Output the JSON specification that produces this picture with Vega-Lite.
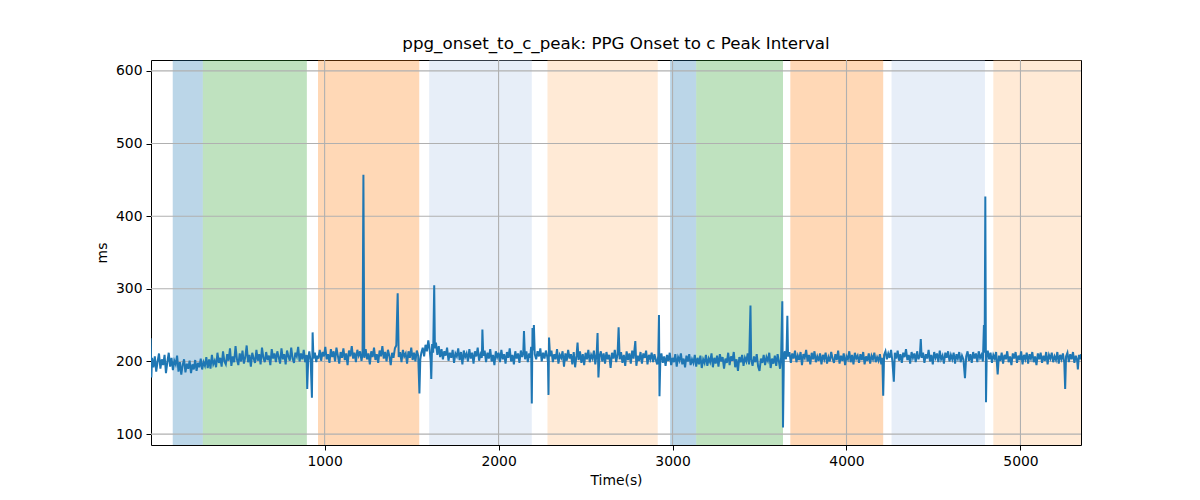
{
  "$schema": "https://vega.github.io/schema/vega-lite/v6.json",
  "width": 930, "height": 385,
  "autosize": {"type": "none"},
  "padding": {"left": 151, "top": 60, "right": 119, "bottom": 55},
  "title": {"text": "ppg_onset_to_c_peak: PPG Onset to c Peak Interval", "font": "DejaVu Sans", "fontSize": 16.7, "fontWeight": "normal", "color": "black", "offset": 7},
  "datasets": {
    "bands": [
      {"t": 127, "t2": 300, "kind": "blue"},
      {"t": 300, "t2": 898, "kind": "green"},
      {"t": 962, "t2": 1544, "kind": "orange"},
      {"t": 1601, "t2": 2191, "kind": "lblue"},
      {"t": 2281, "t2": 2915, "kind": "lorange"},
      {"t": 2986, "t2": 3136, "kind": "blue"},
      {"t": 3136, "t2": 3635, "kind": "green"},
      {"t": 3677, "t2": 4211, "kind": "orange"},
      {"t": 4259, "t2": 4796, "kind": "lblue"},
      {"t": 4844, "t2": 5348, "kind": "lorange"}
    ],
    "xgrid": [{"t": 1000}, {"t": 2000}, {"t": 3000}, {"t": 4000}, {"t": 5000}],
    "ygrid": [{"ms": 100}, {"ms": 200}, {"ms": 300}, {"ms": 400}, {"ms": 500}, {"ms": 600}],
    "series": [
      {"t":0,"ms":232},{"t":4,"ms":178},{"t":8,"ms":205},{"t":16,"ms":192},{"t":24,"ms":207},{"t":32,"ms":186},{"t":40,"ms":200},{"t":48,"ms":211},{"t":56,"ms":190},{"t":64,"ms":203},{"t":72,"ms":195},{"t":80,"ms":209},{"t":88,"ms":184},{"t":96,"ms":199},{"t":104,"ms":212},{"t":112,"ms":193},{"t":120,"ms":205},{"t":128,"ms":188},{"t":136,"ms":201},{"t":144,"ms":196},{"t":152,"ms":208},
      {"t":160,"ms":186},{"t":168,"ms":199},{"t":176,"ms":182},{"t":184,"ms":195},{"t":192,"ms":203},{"t":200,"ms":185},{"t":208,"ms":197},{"t":216,"ms":190},{"t":224,"ms":201},{"t":232,"ms":184},{"t":240,"ms":196},{"t":248,"ms":189},{"t":256,"ms":202},{"t":264,"ms":187},{"t":272,"ms":198},{"t":280,"ms":192},{"t":288,"ms":204},{"t":296,"ms":189},{"t":304,"ms":199},{"t":312,"ms":194},{"t":320,"ms":206},{"t":328,"ms":191},
      {"t":336,"ms":203},{"t":344,"ms":190},{"t":352,"ms":209},{"t":360,"ms":196},{"t":368,"ms":201},{"t":376,"ms":192},{"t":384,"ms":212},{"t":392,"ms":198},{"t":400,"ms":205},{"t":408,"ms":193},{"t":416,"ms":214},{"t":424,"ms":200},{"t":432,"ms":196},{"t":440,"ms":210},{"t":448,"ms":201},{"t":456,"ms":218},{"t":464,"ms":194},{"t":472,"ms":207},{"t":480,"ms":199},{"t":488,"ms":221},{"t":496,"ms":203},{"t":504,"ms":195},{"t":512,"ms":211},{"t":520,"ms":200},{"t":528,"ms":215},{"t":536,"ms":197},{"t":544,"ms":206},{"t":552,"ms":222},{"t":560,"ms":199},{"t":568,"ms":209},{"t":576,"ms":193},{"t":584,"ms":212},{"t":592,"ms":204},{"t":600,"ms":198},{"t":608,"ms":216},{"t":616,"ms":201},{"t":624,"ms":210},{"t":632,"ms":196},{"t":640,"ms":219},{"t":648,"ms":205},{"t":656,"ms":199},{"t":664,"ms":213},{"t":672,"ms":202},{"t":680,"ms":208},{"t":688,"ms":195},{"t":696,"ms":217},{"t":704,"ms":204},{"t":712,"ms":211},{"t":720,"ms":199},{"t":728,"ms":214},{"t":736,"ms":206},{"t":744,"ms":197},{"t":752,"ms":218},{"t":760,"ms":203},{"t":768,"ms":210},{"t":776,"ms":196},{"t":784,"ms":215},{"t":792,"ms":207},{"t":800,"ms":201},{"t":808,"ms":219},{"t":816,"ms":204},{"t":824,"ms":198},{"t":832,"ms":212},{"t":840,"ms":207},{"t":848,"ms":220},{"t":856,"ms":200},{"t":864,"ms":211},{"t":872,"ms":203},{"t":880,"ms":216},{"t":888,"ms":199},{"t":896,"ms":209},{"t":900,"ms":162},{"t":906,"ms":205},{"t":912,"ms":214},{"t":920,"ms":200},{"t":927,"ms":150},{"t":931,"ms":240},{"t":936,"ms":204},{"t":944,"ms":212},{"t":952,"ms":199},{"t":958,"ms":208},
      {"t":964,"ms":204},{"t":972,"ms":216},{"t":980,"ms":201},{"t":988,"ms":213},{"t":996,"ms":207},{"t":1004,"ms":220},{"t":1012,"ms":203},{"t":1020,"ms":210},{"t":1028,"ms":198},{"t":1036,"ms":217},{"t":1044,"ms":206},{"t":1052,"ms":214},{"t":1060,"ms":200},{"t":1068,"ms":219},{"t":1076,"ms":208},{"t":1084,"ms":197},{"t":1092,"ms":213},{"t":1100,"ms":205},{"t":1108,"ms":218},{"t":1116,"ms":202},{"t":1124,"ms":211},{"t":1132,"ms":195},{"t":1140,"ms":215},{"t":1148,"ms":207},{"t":1156,"ms":221},{"t":1164,"ms":204},{"t":1172,"ms":212},{"t":1180,"ms":199},{"t":1188,"ms":216},{"t":1196,"ms":208},{"t":1204,"ms":214},{"t":1212,"ms":201},{"t":1218,"ms":210},{"t":1223,"ms":457},{"t":1228,"ms":205},{"t":1236,"ms":217},{"t":1244,"ms":203},{"t":1252,"ms":211},{"t":1260,"ms":196},{"t":1268,"ms":214},{"t":1276,"ms":206},{"t":1284,"ms":219},{"t":1292,"ms":202},{"t":1300,"ms":210},{"t":1308,"ms":198},{"t":1316,"ms":215},{"t":1324,"ms":207},{"t":1332,"ms":221},{"t":1340,"ms":204},{"t":1348,"ms":213},{"t":1356,"ms":200},{"t":1364,"ms":216},{"t":1372,"ms":208},{"t":1380,"ms":195},{"t":1388,"ms":212},{"t":1396,"ms":205},{"t":1404,"ms":218},{"t":1412,"ms":222},{"t":1420,"ms":294},{"t":1426,"ms":206},{"t":1434,"ms":213},{"t":1442,"ms":199},{"t":1450,"ms":216},{"t":1458,"ms":207},{"t":1466,"ms":211},{"t":1474,"ms":197},{"t":1482,"ms":214},{"t":1490,"ms":205},{"t":1498,"ms":219},{"t":1506,"ms":202},{"t":1514,"ms":212},{"t":1522,"ms":200},{"t":1530,"ms":215},{"t":1538,"ms":208},{"t":1545,"ms":156},{"t":1550,"ms":203},
      {"t":1556,"ms":212},{"t":1564,"ms":219},{"t":1572,"ms":207},{"t":1580,"ms":223},{"t":1588,"ms":214},{"t":1596,"ms":229},{"t":1604,"ms":216},{"t":1610,"ms":200},{"t":1613,"ms":176},{"t":1618,"ms":224},{"t":1624,"ms":212},{"t":1630,"ms":305},{"t":1634,"ms":218},{"t":1640,"ms":226},{"t":1648,"ms":209},{"t":1656,"ms":221},
      {"t":1664,"ms":206},{"t":1672,"ms":217},{"t":1680,"ms":203},{"t":1688,"ms":214},{"t":1696,"ms":208},{"t":1704,"ms":219},{"t":1712,"ms":201},{"t":1720,"ms":212},{"t":1728,"ms":205},{"t":1736,"ms":216},{"t":1744,"ms":198},{"t":1752,"ms":211},{"t":1760,"ms":207},{"t":1768,"ms":218},{"t":1776,"ms":202},{"t":1784,"ms":213},{"t":1792,"ms":196},{"t":1800,"ms":215},{"t":1808,"ms":206},{"t":1816,"ms":211},{"t":1824,"ms":200},{"t":1832,"ms":217},{"t":1840,"ms":204},{"t":1848,"ms":212},{"t":1856,"ms":197},{"t":1864,"ms":214},{"t":1872,"ms":207},{"t":1880,"ms":219},{"t":1888,"ms":201},{"t":1896,"ms":210},{"t":1904,"ms":205},{"t":1907,"ms":244},{"t":1912,"ms":208},{"t":1920,"ms":215},{"t":1928,"ms":199},{"t":1936,"ms":212},{"t":1944,"ms":204},{"t":1952,"ms":217},{"t":1960,"ms":200},{"t":1968,"ms":209},{"t":1976,"ms":195},{"t":1984,"ms":214},{"t":1992,"ms":206},{"t":2000,"ms":212},{"t":2008,"ms":199},{"t":2016,"ms":216},{"t":2024,"ms":203},{"t":2032,"ms":210},{"t":2040,"ms":197},{"t":2048,"ms":213},{"t":2056,"ms":205},{"t":2064,"ms":218},{"t":2072,"ms":200},{"t":2080,"ms":209},{"t":2088,"ms":196},{"t":2096,"ms":214},{"t":2104,"ms":204},{"t":2112,"ms":211},{"t":2120,"ms":198},{"t":2128,"ms":215},{"t":2136,"ms":206},{"t":2142,"ms":212},{"t":2146,"ms":242},{"t":2152,"ms":203},{"t":2160,"ms":214},{"t":2168,"ms":199},{"t":2176,"ms":211},{"t":2182,"ms":205},{"t":2187,"ms":220},{"t":2191,"ms":142},{"t":2195,"ms":246},{"t":2199,"ms":215},{"t":2203,"ms":250},{"t":2208,"ms":210},{"t":2216,"ms":203},{"t":2224,"ms":214},{"t":2232,"ms":207},{"t":2240,"ms":218},{"t":2248,"ms":200},{"t":2256,"ms":212},{"t":2264,"ms":204},{"t":2272,"ms":215},{"t":2280,"ms":206},
      {"t":2284,"ms":199},{"t":2287,"ms":154},{"t":2290,"ms":233},{"t":2296,"ms":207},{"t":2304,"ms":215},{"t":2312,"ms":199},{"t":2320,"ms":210},{"t":2328,"ms":203},{"t":2336,"ms":217},{"t":2344,"ms":197},{"t":2352,"ms":209},{"t":2360,"ms":205},{"t":2368,"ms":214},{"t":2376,"ms":193},{"t":2384,"ms":211},{"t":2392,"ms":201},{"t":2400,"ms":216},{"t":2408,"ms":204},{"t":2416,"ms":210},{"t":2424,"ms":196},{"t":2432,"ms":213},{"t":2440,"ms":192},{"t":2448,"ms":208},{"t":2454,"ms":226},{"t":2460,"ms":202},{"t":2468,"ms":214},{"t":2476,"ms":198},{"t":2484,"ms":210},{"t":2492,"ms":195},{"t":2500,"ms":212},{"t":2508,"ms":203},{"t":2516,"ms":216},{"t":2524,"ms":199},{"t":2532,"ms":209},{"t":2540,"ms":204},{"t":2548,"ms":215},{"t":2556,"ms":196},{"t":2564,"ms":211},{"t":2569,"ms":239},{"t":2574,"ms":178},{"t":2580,"ms":207},{"t":2588,"ms":214},{"t":2596,"ms":200},{"t":2604,"ms":211},{"t":2612,"ms":197},{"t":2620,"ms":213},{"t":2628,"ms":203},{"t":2636,"ms":209},{"t":2644,"ms":191},{"t":2652,"ms":212},{"t":2660,"ms":204},{"t":2668,"ms":216},{"t":2676,"ms":199},{"t":2684,"ms":210},{"t":2690,"ms":247},{"t":2696,"ms":203},{"t":2704,"ms":213},{"t":2712,"ms":198},{"t":2720,"ms":209},{"t":2728,"ms":194},{"t":2736,"ms":214},{"t":2744,"ms":202},{"t":2752,"ms":211},{"t":2760,"ms":197},{"t":2768,"ms":215},{"t":2776,"ms":204},{"t":2786,"ms":228},{"t":2792,"ms":194},{"t":2800,"ms":208},{"t":2808,"ms":201},{"t":2816,"ms":213},{"t":2824,"ms":197},{"t":2832,"ms":211},{"t":2840,"ms":205},{"t":2848,"ms":215},{"t":2856,"ms":196},{"t":2864,"ms":209},{"t":2872,"ms":203},{"t":2880,"ms":212},{"t":2888,"ms":199},{"t":2896,"ms":210},{"t":2904,"ms":202},{"t":2912,"ms":196},{"t":2918,"ms":208},{"t":2922,"ms":264},{"t":2925,"ms":152},{"t":2930,"ms":204},
      {"t":2936,"ms":211},{"t":2944,"ms":198},{"t":2952,"ms":207},{"t":2960,"ms":194},{"t":2968,"ms":209},{"t":2976,"ms":201},{"t":2984,"ms":212},{"t":2992,"ms":195},{"t":3000,"ms":205},{"t":3008,"ms":199},{"t":3016,"ms":210},{"t":3024,"ms":193},{"t":3032,"ms":206},{"t":3040,"ms":201},{"t":3048,"ms":211},{"t":3056,"ms":196},{"t":3064,"ms":204},{"t":3072,"ms":192},{"t":3080,"ms":208},{"t":3088,"ms":200},{"t":3096,"ms":210},{"t":3104,"ms":195},{"t":3112,"ms":203},{"t":3120,"ms":198},{"t":3128,"ms":209},{"t":3136,"ms":193},
      {"t":3144,"ms":205},{"t":3152,"ms":196},{"t":3160,"ms":208},{"t":3168,"ms":191},{"t":3176,"ms":203},{"t":3184,"ms":198},{"t":3192,"ms":209},{"t":3200,"ms":194},{"t":3208,"ms":204},{"t":3216,"ms":199},{"t":3224,"ms":211},{"t":3232,"ms":192},{"t":3240,"ms":205},{"t":3248,"ms":197},{"t":3256,"ms":208},{"t":3264,"ms":193},{"t":3272,"ms":210},{"t":3280,"ms":200},{"t":3288,"ms":206},{"t":3296,"ms":190},{"t":3304,"ms":204},{"t":3312,"ms":198},{"t":3320,"ms":212},{"t":3328,"ms":195},{"t":3336,"ms":207},{"t":3344,"ms":201},{"t":3352,"ms":213},{"t":3360,"ms":192},{"t":3368,"ms":203},{"t":3376,"ms":187},{"t":3384,"ms":206},{"t":3392,"ms":199},{"t":3400,"ms":209},{"t":3408,"ms":194},{"t":3416,"ms":205},{"t":3424,"ms":200},{"t":3432,"ms":211},{"t":3440,"ms":196},{"t":3448,"ms":277},{"t":3452,"ms":203},{"t":3460,"ms":194},{"t":3468,"ms":207},{"t":3476,"ms":199},{"t":3484,"ms":210},{"t":3492,"ms":193},{"t":3500,"ms":187},{"t":3508,"ms":204},{"t":3516,"ms":198},{"t":3524,"ms":209},{"t":3532,"ms":195},{"t":3540,"ms":206},{"t":3548,"ms":201},{"t":3556,"ms":212},{"t":3564,"ms":191},{"t":3572,"ms":204},{"t":3580,"ms":197},{"t":3588,"ms":208},{"t":3596,"ms":194},{"t":3604,"ms":210},{"t":3612,"ms":199},{"t":3618,"ms":190},{"t":3624,"ms":205},{"t":3631,"ms":283},{"t":3635,"ms":109},{"t":3640,"ms":207},
      {"t":3646,"ms":214},{"t":3652,"ms":203},{"t":3656,"ms":218},{"t":3660,"ms":263},{"t":3664,"ms":207},{"t":3672,"ms":213},{"t":3680,"ms":198},{"t":3688,"ms":211},{"t":3696,"ms":204},{"t":3704,"ms":215},{"t":3712,"ms":199},{"t":3720,"ms":208},{"t":3728,"ms":202},{"t":3736,"ms":213},{"t":3744,"ms":195},{"t":3752,"ms":210},{"t":3760,"ms":205},{"t":3768,"ms":216},{"t":3776,"ms":200},{"t":3784,"ms":209},{"t":3792,"ms":196},{"t":3800,"ms":212},{"t":3808,"ms":203},{"t":3816,"ms":214},{"t":3824,"ms":199},{"t":3832,"ms":207},{"t":3840,"ms":201},{"t":3848,"ms":211},{"t":3856,"ms":196},{"t":3864,"ms":209},{"t":3872,"ms":203},{"t":3880,"ms":212},{"t":3888,"ms":197},{"t":3896,"ms":206},{"t":3904,"ms":200},{"t":3912,"ms":213},{"t":3920,"ms":204},{"t":3928,"ms":198},{"t":3936,"ms":210},{"t":3944,"ms":202},{"t":3952,"ms":215},{"t":3960,"ms":197},{"t":3968,"ms":208},{"t":3976,"ms":201},{"t":3984,"ms":211},{"t":3992,"ms":195},{"t":4000,"ms":207},{"t":4008,"ms":203},{"t":4016,"ms":214},{"t":4024,"ms":199},{"t":4032,"ms":209},{"t":4040,"ms":196},{"t":4048,"ms":212},{"t":4056,"ms":204},{"t":4064,"ms":208},{"t":4072,"ms":198},{"t":4080,"ms":210},{"t":4088,"ms":202},{"t":4096,"ms":213},{"t":4104,"ms":196},{"t":4112,"ms":207},{"t":4120,"ms":201},{"t":4128,"ms":211},{"t":4136,"ms":197},{"t":4144,"ms":208},{"t":4152,"ms":203},{"t":4160,"ms":212},{"t":4168,"ms":199},{"t":4176,"ms":206},{"t":4184,"ms":201},{"t":4192,"ms":210},{"t":4200,"ms":196},{"t":4206,"ms":205},{"t":4211,"ms":153},{"t":4216,"ms":209},
      {"t":4224,"ms":214},{"t":4232,"ms":203},{"t":4240,"ms":211},{"t":4248,"ms":205},{"t":4256,"ms":216},{"t":4264,"ms":200},{"t":4272,"ms":172},{"t":4278,"ms":212},{"t":4286,"ms":204},{"t":4294,"ms":215},{"t":4302,"ms":201},{"t":4310,"ms":210},{"t":4318,"ms":198},{"t":4326,"ms":212},{"t":4334,"ms":206},{"t":4342,"ms":217},{"t":4350,"ms":202},{"t":4358,"ms":209},{"t":4366,"ms":197},{"t":4374,"ms":213},{"t":4382,"ms":205},{"t":4390,"ms":211},{"t":4398,"ms":199},{"t":4406,"ms":214},{"t":4414,"ms":203},{"t":4422,"ms":209},{"t":4427,"ms":231},{"t":4432,"ms":205},{"t":4440,"ms":212},{"t":4448,"ms":198},{"t":4456,"ms":210},{"t":4464,"ms":204},{"t":4472,"ms":216},{"t":4480,"ms":200},{"t":4488,"ms":209},{"t":4496,"ms":196},{"t":4504,"ms":213},{"t":4512,"ms":205},{"t":4520,"ms":211},{"t":4528,"ms":199},{"t":4536,"ms":215},{"t":4544,"ms":203},{"t":4552,"ms":208},{"t":4560,"ms":197},{"t":4568,"ms":212},{"t":4576,"ms":205},{"t":4584,"ms":214},{"t":4592,"ms":200},{"t":4600,"ms":209},{"t":4608,"ms":203},{"t":4616,"ms":212},{"t":4624,"ms":197},{"t":4632,"ms":210},{"t":4640,"ms":204},{"t":4648,"ms":213},{"t":4656,"ms":199},{"t":4664,"ms":208},{"t":4672,"ms":203},{"t":4681,"ms":177},{"t":4688,"ms":207},{"t":4696,"ms":214},{"t":4704,"ms":201},{"t":4712,"ms":210},{"t":4720,"ms":198},{"t":4728,"ms":213},{"t":4736,"ms":204},{"t":4744,"ms":211},{"t":4752,"ms":199},{"t":4760,"ms":214},{"t":4768,"ms":205},{"t":4776,"ms":209},{"t":4784,"ms":200},{"t":4790,"ms":250},{"t":4794,"ms":212},{"t":4798,"ms":427},{"t":4802,"ms":144},{"t":4806,"ms":210},
      {"t":4812,"ms":215},{"t":4820,"ms":203},{"t":4828,"ms":212},{"t":4836,"ms":198},{"t":4844,"ms":209},{"t":4852,"ms":204},{"t":4860,"ms":213},{"t":4869,"ms":182},{"t":4876,"ms":208},{"t":4884,"ms":201},{"t":4892,"ms":212},{"t":4900,"ms":197},{"t":4908,"ms":209},{"t":4916,"ms":203},{"t":4924,"ms":214},{"t":4932,"ms":199},{"t":4940,"ms":207},{"t":4948,"ms":195},{"t":4956,"ms":211},{"t":4964,"ms":204},{"t":4972,"ms":213},{"t":4980,"ms":198},{"t":4988,"ms":208},{"t":4996,"ms":202},{"t":5004,"ms":214},{"t":5012,"ms":196},{"t":5020,"ms":209},{"t":5028,"ms":203},{"t":5036,"ms":212},{"t":5044,"ms":197},{"t":5052,"ms":210},{"t":5060,"ms":204},{"t":5068,"ms":213},{"t":5076,"ms":199},{"t":5084,"ms":207},{"t":5092,"ms":195},{"t":5100,"ms":211},{"t":5108,"ms":203},{"t":5116,"ms":212},{"t":5124,"ms":198},{"t":5132,"ms":208},{"t":5140,"ms":201},{"t":5148,"ms":213},{"t":5156,"ms":196},{"t":5164,"ms":209},{"t":5172,"ms":204},{"t":5180,"ms":212},{"t":5188,"ms":199},{"t":5196,"ms":207},{"t":5204,"ms":202},{"t":5212,"ms":213},{"t":5220,"ms":197},{"t":5228,"ms":209},{"t":5236,"ms":203},{"t":5244,"ms":211},{"t":5252,"ms":198},{"t":5257,"ms":162},{"t":5262,"ms":207},{"t":5270,"ms":212},{"t":5278,"ms":199},{"t":5286,"ms":210},{"t":5294,"ms":203},{"t":5302,"ms":213},{"t":5310,"ms":198},{"t":5318,"ms":208},{"t":5326,"ms":201},{"t":5330,"ms":189},{"t":5336,"ms":209},{"t":5342,"ms":203},{"t":5348,"ms":210}
    ]
  },
  "layer": [
    {
      "data": {"name": "bands"},
      "mark": {"type": "rect", "opacity": 0.3, "clip": true},
      "encoding": {
        "x": {"field": "t", "type": "quantitative", "title": "Time(s)",
          "scale": {"domain": [2, 5348], "nice": false, "zero": false},
          "axis": {"values": [1000, 2000, 3000, 4000, 5000], "format": "d", "grid": false}},
        "x2": {"field": "t2"},
        "color": {"field": "kind", "type": "nominal", "legend": null,
          "scale": {"domain": ["blue", "green", "orange", "lblue", "lorange"], "range": ["#1f77b4", "#2ca02c", "#ff7f0e", "#aec7e8", "#ffbb78"]}}
      }
    },
    {
      "data": {"name": "xgrid"},
      "mark": {"type": "rule", "color": "#b0b0b0", "strokeWidth": 1.1},
      "encoding": {
        "x": {"field": "t", "type": "quantitative", "title": "Time(s)",
          "axis": {"values": [1000, 2000, 3000, 4000, 5000], "format": "d", "grid": false}}
      }
    },
    {
      "data": {"name": "ygrid"},
      "mark": {"type": "rule", "color": "#b0b0b0", "strokeWidth": 1.1},
      "encoding": {
        "y": {"field": "ms", "type": "quantitative", "title": "ms",
          "scale": {"domain": [85, 615], "nice": false, "zero": false},
          "axis": {"values": [100, 200, 300, 400, 500, 600], "format": "d", "grid": false}}
      }
    },
    {
      "data": {"name": "series"},
      "mark": {"type": "line", "color": "#1f77b4", "strokeWidth": 2, "clip": true},
      "encoding": {
        "x": {"field": "t", "type": "quantitative", "title": "Time(s)",
          "axis": {"values": [1000, 2000, 3000, 4000, 5000], "format": "d", "grid": false}},
        "y": {"field": "ms", "type": "quantitative", "title": "ms",
          "axis": {"values": [100, 200, 300, 400, 500, 600], "format": "d", "grid": false}}
      }
    }
  ],
  "config": {
    "view": {"stroke": "black", "strokeWidth": 1},
    "axis": {
      "domain": false,
      "tickColor": "black", "tickSize": 5, "tickWidth": 1,
      "labelFont": "DejaVu Sans", "labelFontSize": 13.9, "labelColor": "black", "labelPadding": 4,
      "titleFont": "DejaVu Sans", "titleFontSize": 13.9, "titleFontWeight": "normal", "titleColor": "black", "titlePadding": 6,
      "labelFlush": false
    }
  }
}
